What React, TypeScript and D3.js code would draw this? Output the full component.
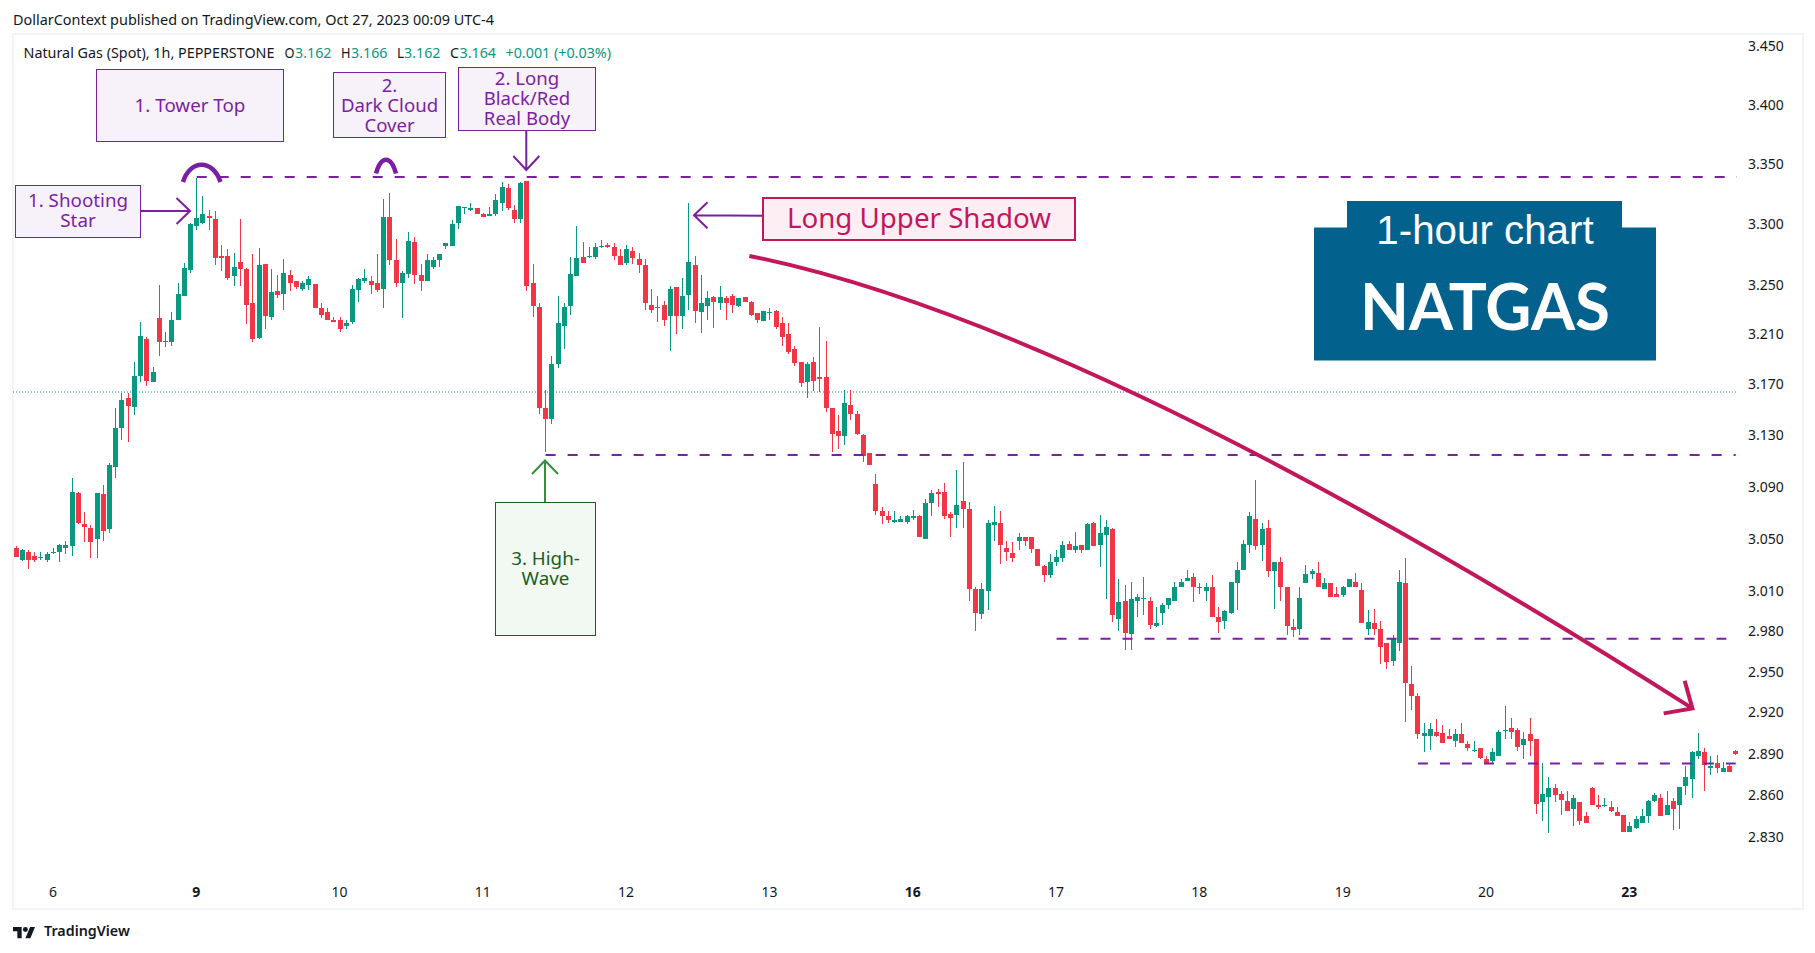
import { useEffect, useRef } from "react";
import * as d3 from "d3";

const opens = [
  3.043,3.034,3.040,3.037,3.035,3.034,3.039,3.040,3.043,3.044,
  3.085,3.061,3.058,3.050,3.084,3.057,3.105,3.136,3.159,3.152,
  3.177,3.206,3.172,3.223,3.204,3.204,3.222,3.241,3.262,3.298,
  3.301,3.307,3.304,3.274,3.274,3.257,3.269,3.263,3.235,3.207,
  3.267,3.224,3.245,3.243,3.258,3.253,3.247,3.250,3.251,3.231,
  3.228,3.222,3.222,3.217,3.220,3.246,3.253,3.253,3.252,3.247,
  3.306,3.270,3.252,3.259,3.285,3.258,3.253,3.265,3.270,3.282,
  3.282,3.301,3.313,3.312,3.313,3.308,3.307,3.308,3.317,3.330,
  3.312,3.304,3.336,3.252,3.232,3.151,3.143,3.186,3.217,3.233,
  3.257,3.273,3.273,3.273,3.281,3.283,3.281,3.274,3.268,3.278,
  3.271,3.266,3.234,3.231,3.234,3.225,3.248,3.225,3.242,3.266,
  3.228,3.233,3.240,3.235,3.239,3.241,3.233,3.240,3.236,3.227,
  3.221,3.227,3.229,3.219,3.210,3.198,3.188,3.172,3.188,3.176,
  3.176,3.151,3.133,3.129,3.154,3.147,3.130,3.116,3.092,3.071,
  3.067,3.063,3.063,3.063,3.066,3.067,3.050,3.077,3.086,3.086,
  3.069,3.068,3.079,3.073,3.012,2.993,3.010,3.060,3.062,3.043,
  3.039,3.048,3.051,3.051,3.042,3.029,3.022,3.032,3.035,3.046,
  3.041,3.045,3.041,3.062,3.045,3.053,3.057,2.989,3.003,2.978,
  3.003,3.004,3.003,2.984,2.994,3.000,3.003,3.013,3.018,3.021,
  3.013,3.010,3.013,2.991,2.988,2.994,3.016,3.026,3.045,3.065,
  3.045,3.058,3.025,3.032,3.013,2.983,2.982,3.016,3.023,3.024,
  3.012,3.016,3.008,3.007,3.013,3.017,3.011,2.982,2.986,2.982,
  2.971,2.958,2.971,3.016,2.941,2.932,2.903,2.903,2.906,2.905,
  2.903,2.899,2.904,2.897,2.893,2.894,2.886,2.885,2.888,2.907,
  2.909,2.907,2.896,2.904,2.901,2.855,2.859,2.865,2.861,2.856,
  2.850,2.855,2.845,2.865,2.853,2.853,2.852,2.848,2.846,2.834,
  2.837,2.840,2.845,2.856,2.858,2.846,2.856,2.853,2.867,2.872,
  2.888,2.891,2.880,2.883,2.877,2.881,2.892,
];

const highs = [
  3.044,3.042,3.041,3.040,3.040,3.040,3.043,3.046,3.048,3.097,
  3.086,3.070,3.060,3.085,3.091,3.108,3.151,3.163,3.163,3.188,
  3.220,3.208,3.184,3.250,3.212,3.228,3.252,3.268,3.301,3.338,
  3.323,3.312,3.311,3.283,3.279,3.276,3.304,3.264,3.275,3.280,
  3.267,3.263,3.258,3.271,3.262,3.253,3.253,3.257,3.251,3.235,
  3.231,3.224,3.224,3.222,3.250,3.256,3.263,3.257,3.275,3.321,
  3.326,3.288,3.261,3.293,3.289,3.267,3.275,3.273,3.275,3.284,
  3.303,3.315,3.314,3.317,3.313,3.309,3.314,3.325,3.335,3.333,
  3.316,3.335,3.336,3.267,3.235,3.166,3.193,3.241,3.235,3.273,
  3.298,3.285,3.281,3.284,3.287,3.284,3.284,3.279,3.283,3.281,
  3.276,3.271,3.247,3.241,3.237,3.249,3.248,3.256,3.317,3.274,
  3.258,3.245,3.241,3.249,3.241,3.243,3.239,3.240,3.237,3.227,
  3.229,3.231,3.230,3.224,3.219,3.201,3.188,3.188,3.192,3.216,
  3.205,3.151,3.146,3.166,3.166,3.149,3.131,3.116,3.100,3.074,
  3.071,3.071,3.067,3.068,3.072,3.068,3.080,3.087,3.088,3.093,
  3.070,3.103,3.109,3.078,3.013,3.016,3.064,3.075,3.071,3.048,
  3.047,3.054,3.051,3.051,3.042,3.030,3.038,3.041,3.048,3.048,
  3.055,3.045,3.062,3.063,3.068,3.064,3.058,3.019,3.015,3.017,
  3.008,3.021,3.006,2.998,3.001,3.005,3.017,3.019,3.026,3.024,
  3.016,3.016,3.022,2.998,2.996,3.017,3.032,3.049,3.070,3.095,
  3.062,3.064,3.032,3.036,3.013,2.989,3.013,3.030,3.027,3.032,
  3.020,3.016,3.013,3.014,3.019,3.024,3.016,2.996,2.997,2.988,
  2.971,2.977,3.026,3.035,2.954,2.934,2.912,2.912,2.915,2.911,
  2.908,2.908,2.912,2.899,2.899,2.894,2.888,2.894,2.907,2.925,
  2.916,2.909,2.906,2.916,2.901,2.883,2.873,2.868,2.863,2.863,
  2.860,2.855,2.848,2.866,2.860,2.858,2.856,2.852,2.846,2.841,
  2.845,2.850,2.857,2.862,2.861,2.863,2.858,2.866,2.881,2.892,
  2.905,2.894,2.888,2.889,2.884,2.883,2.893,
];

const lows = [
  3.036,3.033,3.027,3.032,3.034,3.032,3.038,3.032,3.038,3.037,
  3.061,3.047,3.035,3.035,3.048,3.054,3.097,3.126,3.125,3.146,
  3.172,3.169,3.172,3.193,3.200,3.201,3.222,3.241,3.260,3.295,
  3.300,3.295,3.266,3.261,3.254,3.249,3.249,3.218,3.204,3.206,
  3.214,3.222,3.239,3.230,3.245,3.247,3.245,3.246,3.231,3.223,
  3.222,3.220,3.212,3.214,3.218,3.236,3.252,3.243,3.244,3.231,
  3.266,3.248,3.223,3.256,3.251,3.245,3.253,3.263,3.265,3.279,
  3.282,3.296,3.308,3.311,3.308,3.306,3.307,3.307,3.311,3.312,
  3.301,3.301,3.245,3.224,3.147,3.117,3.139,3.183,3.198,3.226,
  3.257,3.268,3.272,3.271,3.280,3.280,3.270,3.266,3.266,3.267,
  3.260,3.230,3.227,3.220,3.217,3.197,3.210,3.214,3.230,3.219,
  3.211,3.222,3.215,3.230,3.222,3.227,3.232,3.236,3.225,3.219,
  3.221,3.222,3.214,3.201,3.194,3.185,3.168,3.159,3.165,3.164,
  3.148,3.117,3.119,3.122,3.142,3.130,3.109,3.107,3.068,3.061,
  3.062,3.062,3.063,3.061,3.064,3.051,3.050,3.067,3.074,3.065,
  3.051,3.058,3.058,3.003,2.980,2.989,2.996,3.048,3.031,3.033,
  3.032,3.041,3.044,3.039,3.029,3.017,3.020,3.029,3.032,3.041,
  3.039,3.039,3.041,3.044,3.028,3.004,2.987,2.980,2.966,2.966,
  2.991,2.992,2.982,2.983,2.985,2.997,3.003,3.013,3.018,3.002,
  3.008,3.003,2.991,2.979,2.982,2.993,2.996,3.026,3.039,3.041,
  3.033,3.021,2.997,3.003,2.977,2.976,2.977,3.016,3.019,3.013,
  3.012,3.006,3.006,3.006,3.013,3.013,2.986,2.977,2.977,2.956,
  2.952,2.954,2.965,2.913,2.922,2.901,2.891,2.893,2.902,2.898,
  2.901,2.895,2.898,2.892,2.891,2.886,2.883,2.883,2.888,2.901,
  2.901,2.892,2.886,2.888,2.847,2.842,2.833,2.855,2.846,2.849,
  2.838,2.839,2.840,2.853,2.850,2.852,2.848,2.845,2.834,2.834,
  2.836,2.840,2.840,2.855,2.845,2.846,2.835,2.836,2.860,2.858,
  2.886,2.863,2.875,2.876,2.877,2.877,2.889,
];

const closes = [
  3.036,3.041,3.034,3.034,3.036,3.038,3.040,3.045,3.045,3.086,
  3.062,3.059,3.047,3.085,3.056,3.107,3.136,3.158,3.153,3.177,
  3.209,3.173,3.180,3.204,3.205,3.222,3.243,3.264,3.300,3.305,
  3.308,3.305,3.272,3.272,3.256,3.265,3.263,3.234,3.206,3.266,
  3.225,3.244,3.242,3.260,3.252,3.248,3.252,3.255,3.231,3.226,
  3.222,3.220,3.214,3.219,3.247,3.255,3.256,3.250,3.246,3.306,
  3.270,3.252,3.260,3.286,3.258,3.253,3.270,3.270,3.275,3.284,
  3.300,3.315,3.314,3.313,3.308,3.306,3.308,3.320,3.331,3.313,
  3.304,3.334,3.249,3.233,3.151,3.143,3.186,3.219,3.232,3.259,
  3.272,3.268,3.274,3.281,3.282,3.281,3.274,3.266,3.279,3.272,
  3.266,3.235,3.230,3.232,3.222,3.247,3.225,3.241,3.269,3.229,
  3.235,3.239,3.236,3.240,3.235,3.234,3.239,3.236,3.226,3.222,
  3.229,3.228,3.216,3.208,3.196,3.187,3.171,3.186,3.173,3.174,
  3.151,3.131,3.129,3.155,3.147,3.131,3.114,3.107,3.071,3.067,
  3.064,3.064,3.065,3.067,3.067,3.051,3.077,3.085,3.084,3.067,
  3.066,3.076,3.073,3.012,2.994,3.012,3.062,3.063,3.045,3.040,
  3.035,3.051,3.048,3.042,3.029,3.022,3.032,3.036,3.045,3.041,
  3.044,3.041,3.061,3.044,3.054,3.059,2.992,3.002,2.979,3.004,
  3.006,3.005,2.985,2.986,3.000,3.005,3.013,3.017,3.020,3.013,
  3.013,3.013,2.991,2.987,2.995,3.017,3.026,3.046,3.067,3.044,
  3.057,3.025,3.032,3.013,2.984,2.981,3.005,3.023,3.025,3.013,
  3.016,3.006,3.006,3.013,3.019,3.013,2.986,2.987,2.982,2.968,
  2.957,2.974,3.017,2.942,2.932,2.904,2.905,2.908,2.903,2.898,
  2.901,2.904,2.898,2.894,2.893,2.887,2.883,2.891,2.906,2.907,
  2.906,2.895,2.901,2.899,2.854,2.861,2.865,2.860,2.857,2.849,
  2.858,2.842,2.840,2.853,2.852,2.853,2.849,2.845,2.834,2.838,
  2.843,2.845,2.856,2.860,2.845,2.853,2.850,2.866,2.873,2.891,
  2.892,2.882,2.881,2.880,2.880,2.877,2.890,
];

const priceTicks = [3.45, 3.4, 3.35, 3.3, 3.25, 3.21, 3.17, 3.13, 3.09, 3.05, 3.01, 2.98, 2.95, 2.92, 2.89, 2.86, 2.83];
const dayIndexes = [6, 29, 52, 75, 98, 121, 144, 167, 190, 213, 236, 259];
const dayLabels = ["6", "9", "10", "11", "12", "13", "16", "17", "18", "19", "20", "23"];
const weekStarts = ["9", "16", "23"];
const lastPrice = 3.164;

// dashed levels: [from candle, to candle, price]
const levels: [number, number, number][] = [
  [29, 276.2, 3.339],
  [85, 276, 3.1146],
  [167, 274.5, 2.9745],
  [225, 276, 2.883],
];

// the long curved arrow: [candle, price] for start, control, end
const trendCurve: [number, number][] = [
  [117.7, 3.2737],
  [172, 3.2185],
  [269.05, 2.923],
];

const PURPLE = "#7b1fa2";
const PINK = "#c2185b";
const DARKGREEN = "#1b5e20";
const UP = "#089981";
const DOWN = "#f23645";
const TEXT = "#131722";
const FONT = "'Noto Sans', sans-serif";

const boxes = [
  { x: 96.5, y: 69.5, w: 187, h: 72, fill: "#f7f1fa", stroke: PURPLE, sw: 1, color: PURPLE, size: 18.8, lines: ["1. Tower Top"], ys: [105] },
  { x: 333.5, y: 72.5, w: 112, h: 65, fill: "#f7f1fa", stroke: PURPLE, sw: 1, color: PURPLE, size: 18.6, lines: ["2.", "Dark Cloud", "Cover"], ys: [85, 105, 125] },
  { x: 458.5, y: 67.5, w: 137, h: 63, fill: "#f7f1fa", stroke: PURPLE, sw: 1, color: PURPLE, size: 18.6, lines: ["2. Long", "Black/Red", "Real Body"], ys: [78.5, 98.5, 118.5] },
  { x: 15.5, y: 185.5, w: 125, h: 52, fill: "#f7f1fa", stroke: PURPLE, sw: 1, color: PURPLE, size: 18.8, lines: ["1. Shooting", "Star"], ys: [200.5, 220.5] },
  { x: 495.5, y: 502.5, w: 100, h: 133, fill: "#f2f9f3", stroke: DARKGREEN, sw: 1, color: DARKGREEN, size: 18.8, lines: ["3. High-", "Wave"], ys: [558.5, 578.5] },
  { x: 763, y: 198, w: 312, h: 42, fill: "#fdeef4", stroke: PINK, sw: 2, color: PINK, size: 27.7, lines: ["Long Upper Shadow"], ys: [218] },
];

function App() {
  const svgRef = useRef<SVGSVGElement>(null);

  useEffect(() => {
    if (!svgRef.current) return;
    const svg = d3.select(svgRef.current);
    svg.selectAll("*").remove();

    const x = d3.scaleLinear().domain([0, opens.length - 1]).range([16, 1735.7]);
    const y = d3.scaleLog().domain([2.83, 3.45]).range([837.5, 46.5]);

    svg.append("rect").attr("width", 1815).attr("height", 953).attr("fill", "#fff");

    // chart frame
    svg.append("rect").attr("x", 13).attr("y", 34).attr("width", 1790).attr("height", 875)
      .attr("fill", "none").attr("stroke", "#f0f3fa").attr("stroke-width", 2);

    // last price line goes under the candles
    svg.append("line").attr("x1", 13).attr("x2", 1736.5).attr("y1", y(lastPrice)).attr("y2", y(lastPrice))
      .attr("stroke", UP).attr("stroke-dasharray", "1 2");

    const candles = svg.append("g").attr("shape-rendering", "crispEdges");
    opens.forEach((open, i) => {
      const close = closes[i];
      const color = close >= open ? UP : DOWN;
      const cx = Math.floor(x(i));
      const top = Math.round(y(Math.max(open, close)));
      const bottom = Math.round(y(Math.min(open, close)));
      const wickTop = Math.round(y(highs[i]));
      candles.append("rect").attr("x", cx).attr("width", 1).attr("y", wickTop)
        .attr("height", Math.round(y(lows[i])) - wickTop).attr("fill", color);
      candles.append("rect").attr("x", cx - 2).attr("width", 5).attr("y", top)
        .attr("height", Math.max(1, bottom - top)).attr("fill", color);
    });

    // price axis
    const yAxis = svg.append("g").attr("transform", "translate(1748,0)")
      .call(d3.axisRight(y).tickValues(priceTicks).tickSize(0).tickPadding(0).tickFormat((d) => d3.format(".3f")(d as number)));
    yAxis.select(".domain").remove();
    yAxis.selectAll("text").attr("font-family", FONT).attr("font-size", 14).attr("fill", TEXT);

    // day axis
    const xAxis = svg.append("g").attr("transform", "translate(-1,887)")
      .call(d3.axisBottom(x).tickValues(dayIndexes).tickSize(0).tickPadding(0).tickFormat((_, i) => dayLabels[i]));
    xAxis.select(".domain").remove();
    xAxis.selectAll("text").attr("font-family", FONT).attr("font-size", 14).attr("fill", TEXT)
      .attr("font-weight", (_, i) => (weekStarts.includes(dayLabels[i]) ? 700 : 400));

    // level lines
    levels.forEach(([from, to, price]) => {
      svg.append("line").attr("x1", x(from)).attr("x2", x(to)).attr("y1", y(price)).attr("y2", y(price))
        .attr("stroke", PURPLE).attr("stroke-width", 2).attr("stroke-dasharray", "10 12");
    });

    // tower top arcs
    const arc = d3.path();
    arc.moveTo(183, 182);
    arc.bezierCurveTo(190, 159, 213, 159, 220.5, 182);
    arc.moveTo(376, 173.5);
    arc.bezierCurveTo(381, 155, 391, 155, 396, 173.5);
    svg.append("path").attr("d", arc.toString()).attr("fill", "none").attr("stroke", PURPLE).attr("stroke-width", 4.5);

    const arrow = (x1: number, y1: number, x2: number, y2: number, wing: [number, number][], color: string) => {
      const p = d3.path();
      p.moveTo(x1, y1);
      p.lineTo(x2, y2);
      p.moveTo(x2 + wing[0][0], y2 + wing[0][1]);
      p.lineTo(x2, y2);
      p.lineTo(x2 + wing[1][0], y2 + wing[1][1]);
      svg.append("path").attr("d", p.toString()).attr("fill", "none").attr("stroke", color).attr("stroke-width", 2);
    };
    arrow(140, 211, 190, 211, [[-13.5, -13], [-13.5, 13]], PURPLE);
    arrow(526.3, 130.5, 526.3, 170, [[-13, -14], [13, -14]], PURPLE);
    arrow(763, 215.7, 694, 215.2, [[13.5, -13], [13.5, 13]], PURPLE);
    arrow(545, 502, 545, 460.5, [[-13, 13.5], [13, 13.5]], "#388e3c");

    // long pink trend arrow
    const [p0, p1, p2] = trendCurve.map(([i, price]) => [x(i), y(price)]);
    const curve = d3.path();
    curve.moveTo(p0[0], p0[1]);
    curve.quadraticCurveTo(p1[0], p1[1], p2[0], p2[1]);
    curve.moveTo(p2[0] - 7.7, p2[1] - 27.6);
    curve.lineTo(p2[0], p2[1]);
    curve.lineTo(p2[0] - 28.7, p2[1] + 5);
    svg.append("path").attr("d", curve.toString()).attr("fill", "none").attr("stroke", PINK).attr("stroke-width", 4);

    // text boxes, several lines stay together in one text
    boxes.forEach((b) => {
      svg.append("rect").attr("x", b.x).attr("y", b.y).attr("width", b.w).attr("height", b.h)
        .attr("fill", b.fill).attr("stroke", b.stroke).attr("stroke-width", b.sw);
      const txt = svg.append("text").attr("text-anchor", "middle").attr("font-family", FONT)
        .attr("font-size", b.size).attr("fill", b.color);
      b.lines.forEach((line, i) => {
        txt.append("tspan").attr("x", b.x + b.w / 2).attr("y", b.ys[i] + b.size * 0.37).text(line);
      });
    });

    // header lines
    const label = (txt: string, lx: number, ly: number, width: number, color: string) => {
      svg.append("text").attr("x", lx).attr("y", ly).attr("font-family", FONT).attr("font-size", 14)
        .attr("fill", color).attr("textLength", width).attr("lengthAdjust", "spacingAndGlyphs").text(txt);
    };
    label("DollarContext published on TradingView.com, Oct 27, 2023 00:09 UTC-4", 13, 25, 481, TEXT);
    label("Natural Gas (Spot), 1h, PEPPERSTONE", 23.5, 58, 251, TEXT);
    label("O", 284.5, 58, 10, TEXT);
    label("3.162", 295, 58, 36.5, UP);
    label("H", 341, 58, 9.5, TEXT);
    label("3.166", 351, 58, 36.5, UP);
    label("L", 397, 58, 7, TEXT);
    label("3.162", 404, 58, 36.5, UP);
    label("C", 450, 58, 9, TEXT);
    label("3.164", 459.5, 58, 36.5, UP);
    label("+0.001 (+0.03%)", 505.5, 58, 105.5, UP);

    // NATGAS badge
    const badge = d3.path();
    badge.moveTo(1314, 360.5);
    badge.lineTo(1314, 227.5);
    badge.lineTo(1347, 227.5);
    badge.lineTo(1347, 201);
    badge.lineTo(1622, 201);
    badge.lineTo(1622, 227.5);
    badge.lineTo(1656, 227.5);
    badge.lineTo(1656, 360.5);
    badge.closePath();
    svg.append("path").attr("d", badge.toString()).attr("fill", "#03628d");
    svg.append("text").attr("x", 1485).attr("y", 243.5).attr("text-anchor", "middle")
      .attr("font-family", "'Liberation Sans', sans-serif").attr("font-size", 40.3).attr("fill", "#fff").text("1-hour chart");
    svg.append("text").attr("x", 1485).attr("y", 330).attr("text-anchor", "middle")
      .attr("font-family", "Lato, sans-serif").attr("font-weight", 700).attr("font-size", 65)
      .attr("textLength", 250).attr("lengthAdjust", "spacingAndGlyphs").attr("fill", "#fff").text("NATGAS");

    // TradingView mark
    const logo = svg.append("g").attr("transform", "translate(13,924.5) scale(0.62)").attr("fill", TEXT);
    logo.append("path").attr("d", "M14 22H7V11H0V4h14v18zM28 22h-8l7.5-18h8L28 22z");
    logo.append("circle").attr("cx", 20).attr("cy", 8).attr("r", 4);
    svg.append("text").attr("x", 44).attr("y", 936).attr("font-family", FONT).attr("font-weight", 600)
      .attr("font-size", 14.3).attr("fill", TEXT).text("TradingView");
  }, []);

  return (
    <div style={{ position: "absolute", left: 0, top: 0 }}>
      <svg ref={svgRef} width={1815} height={953} style={{ display: "block" }} />
    </div>
  );
}

export default App;
